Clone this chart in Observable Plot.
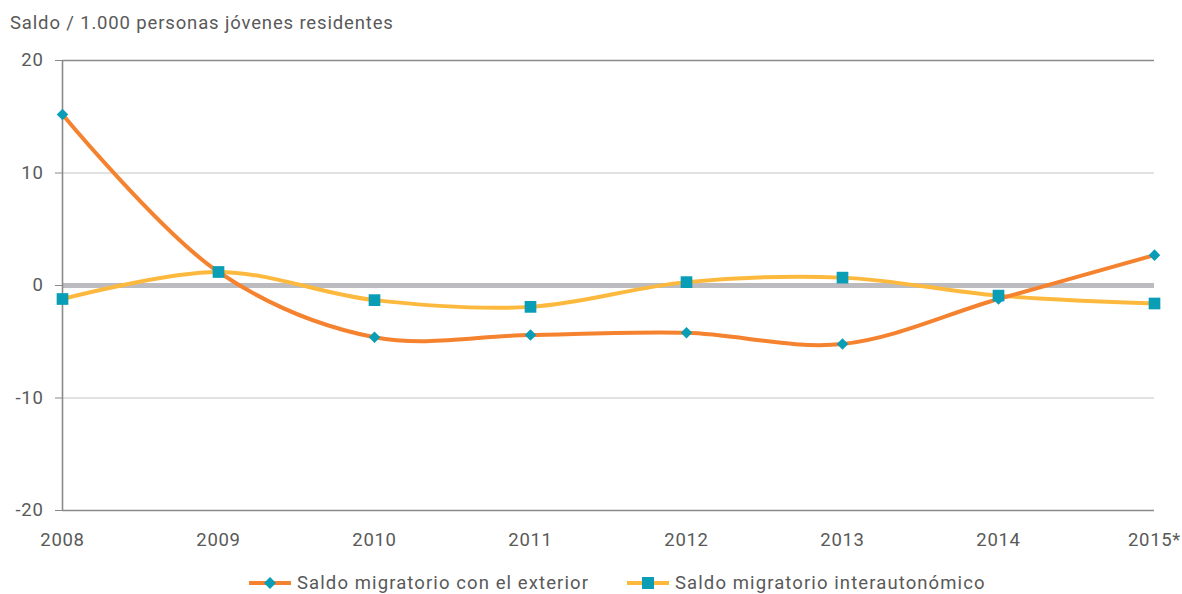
<!DOCTYPE html>
<html>
<head>
<meta charset="utf-8">
<script src="https://cdn.jsdelivr.net/npm/d3@7"></script>
<script src="https://cdn.jsdelivr.net/npm/@observablehq/plot@0.6"></script>
<style>
  body { margin: 0; background: #fff; font-family: Roboto, sans-serif; color: #595959; width: 1182px; height: 594px; overflow: hidden; position: relative; }
  #title { position: absolute; left: 10px; top: 9px; font-size: 18.5px; line-height: 28px; letter-spacing: 0.85px; }
  #chart { position: absolute; left: 0; top: 44px; }
  #chart svg text { letter-spacing: 0.7px; }
  .leg { position: absolute; top: 571px; height: 24px; display: flex; align-items: center; font-size: 18.5px; letter-spacing: 1.1px; white-space: nowrap; }
  .leg svg { margin-right: 6px; }
</style>
</head>
<body>
<div id="title">Saldo / 1.000 personas jóvenes residentes</div>
<div id="chart"></div>
<div class="leg" style="left:249px"><svg width="42" height="14"><line x1="0" x2="42" y1="7" y2="7" stroke="#f5822f" stroke-width="4"/><path d="M21,1 L27,7 L21,13 L15,7 Z" fill="#0a9eb6"/></svg>Saldo migratorio con el exterior</div>
<div class="leg" style="left:627px"><svg width="42" height="14"><line x1="0" x2="42" y1="7" y2="7" stroke="#fdb93d" stroke-width="4"/><rect x="15" y="1" width="12" height="12" fill="#0a9eb6"/></svg>Saldo migratorio interautonómico</div>
<script>
const years = ["2008","2009","2010","2011","2012","2013","2014","2015*"];
const exterior = [15.2, 1.2, -4.6, -4.4, -4.2, -5.2, -1.2, 2.7];
const interautonomico = [-1.2, 1.2, -1.3, -1.9, 0.3, 0.7, -0.9, -1.6];
const yTicks = [-20, -10, 0, 10, 20];

const data = years.map((y, i) => ({year: y, ext: exterior[i], inter: interautonomico[i]}));

const chart = Plot.plot({
  width: 1182,
  height: 526,
  marginLeft: 62,
  marginRight: 28,
  marginTop: 16,
  marginBottom: 60,
  x: {type: "point", domain: years, padding: 0},
  y: {domain: [-20, 20]},
  style: {fontFamily: "Roboto, sans-serif", fontSize: "18.5px", color: "#595959", background: "white"},
  marks: [
    Plot.ruleY([10, -10], {stroke: "#c4c4c4", strokeWidth: 1}),
    Plot.ruleY([20, -20], {stroke: "#8a8a8a", strokeWidth: 1.3}),
    Plot.ruleY([0], {stroke: "#bcbcc0", strokeWidth: 5}),
    Plot.ruleX([years[0]], {stroke: "#8a8a8a", strokeWidth: 1.6}),
    Plot.axisY({ticks: yTicks, tickFormat: d => String(d), tickSize: 7, tickPadding: 12, label: null, stroke: "#8a8a8a", fill: "#595959"}),
    Plot.axisX({tickSize: 0, tickPadding: 22, label: null, fill: "#595959"}),
    Plot.line(data, {x: "year", y: "inter", stroke: "#fdb93d", strokeWidth: 4, curve: "catmull-rom"}),
    Plot.line(data, {x: "year", y: "ext", stroke: "#f5822f", strokeWidth: 4, curve: "catmull-rom"}),
    Plot.dot(data, {x: "year", y: "ext", symbol: "diamond2", r: 5.2, fill: "#0a9eb6"}),
    Plot.dot(data, {x: "year", y: "inter", symbol: "square", r: 6.6, fill: "#0a9eb6"})
  ]
});
document.getElementById("chart").appendChild(chart);
</script>
</body>
</html>
